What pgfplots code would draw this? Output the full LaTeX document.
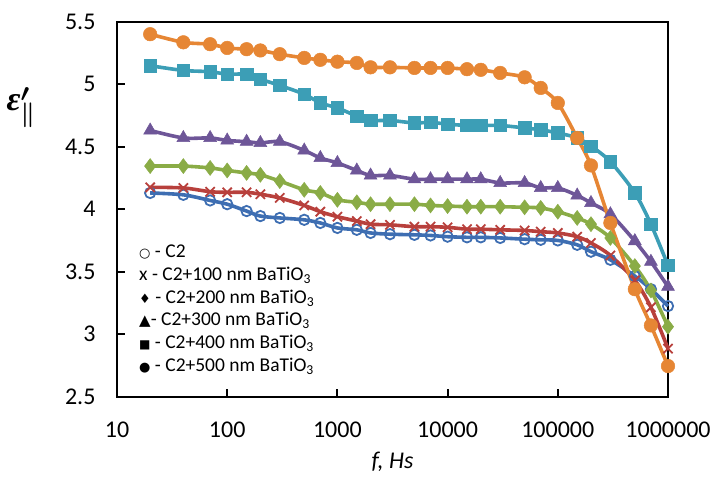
\documentclass[border=0pt]{standalone}
\usepackage{pgfplots}
\pgfplotsset{compat=1.18}
\usepackage{pgfplotstable}
\usepackage{fontspec}
\setmainfont{Carlito}
\newfontfamily\symfont{DejaVu Sans}
\newfontfamily\epsfont{Liberation Serif}
\newcommand{\epslabel}{{\boldmath$\mbox{\epsfont\bfseries\itshape ε}'_{\|}$}}
\definecolor{cBlue}{RGB}{62,110,178}
\definecolor{cRed}{RGB}{184,64,60}
\definecolor{cGreen}{RGB}{138,172,70}
\definecolor{cPurple}{RGB}{110,86,152}
\definecolor{cTeal}{RGB}{60,158,182}
\definecolor{cOrange}{RGB}{230,134,52}
\pgfplotstableread{
f c2 c100 c200 c300 c400 c500
20 4.13 4.175 4.345 4.63 5.148 5.40
40 4.115 4.17 4.345 4.57 5.11 5.335
70 4.07 4.14 4.33 4.57 5.10 5.32
100 4.04 4.135 4.31 4.55 5.08 5.29
150 3.985 4.135 4.29 4.54 5.08 5.28
200 3.945 4.12 4.275 4.53 5.04 5.27
300 3.93 4.09 4.225 4.54 4.99 5.24
500 3.915 4.03 4.155 4.47 4.92 5.21
700 3.89 3.98 4.13 4.41 4.85 5.195
1000 3.85 3.94 4.075 4.37 4.81 5.18
1500 3.835 3.905 4.055 4.31 4.745 5.17
2000 3.81 3.88 4.04 4.27 4.71 5.135
3000 3.80 3.875 4.04 4.27 4.71 5.135
5000 3.795 3.86 4.04 4.24 4.69 5.13
7000 3.79 3.86 4.03 4.24 4.695 5.13
10000 3.78 3.855 4.025 4.24 4.68 5.13
15000 3.775 3.84 4.02 4.24 4.67 5.12
20000 3.775 3.84 4.02 4.24 4.67 5.115
30000 3.77 3.835 4.02 4.21 4.67 5.09
50000 3.76 3.83 4.015 4.21 4.65 5.055
70000 3.755 3.82 4.01 4.17 4.635 4.97
100000 3.75 3.81 3.98 4.17 4.61 4.85
150000 3.715 3.78 3.93 4.11 4.57 4.57
200000 3.66 3.73 3.88 4.05 4.505 4.35
300000 3.595 3.63 3.77 3.96 4.38 3.89
500000 3.465 3.43 3.545 3.745 4.13 3.36
700000 3.36 3.215 3.35 3.58 3.88 3.07
1000000 3.225 2.885 3.06 3.38 3.55 2.745
}\datatable
\begin{document}
\begin{tikzpicture}
\begin{axis}[
  scale only axis, width=551pt, height=375pt,
  xmode=log, xmin=10, xmax=1000000, ymin=2.5, ymax=5.5,
  xtick={10,100,1000,10000,100000,1000000},
  xticklabels={10,100,1000,10000,100000,1000000},
  ytick={2.5,3,3.5,4,4.5,5,5.5},
  yticklabels={2.5,3,3.5,4,4.5,5,5.5},
  xminorticks=false,
  tick pos=left, tick align=inside,
  major tick length=8pt,
  every tick/.style={black, line width=2pt},
  axis line style={line width=2pt},
  tick label style={font=\fontsize{24}{24}\selectfont},
  xticklabel style={yshift=-22pt},
  yticklabel style={xshift=-18pt},
  clip=false,
  every axis plot/.append style={smooth, tension=0.5, line width=3.6pt},
]
\addplot[cBlue, mark=o, mark size=5.2pt, mark options={solid, line width=1.8pt}] table[x=f,y=c2] {\datatable};
\addplot[cRed, mark=x, mark size=6.5pt, mark options={solid, line width=1.8pt}] table[x=f,y=c100] {\datatable};
\addplot[cGreen, mark=diamond*, mark size=7.5pt, mark options={solid, line width=0.5pt}] table[x=f,y=c200] {\datatable};
\addplot[cPurple, mark=triangle*, mark size=7.5pt, mark options={solid, line width=0.5pt}] table[x=f,y=c300] {\datatable};
\addplot[cTeal, mark=square*, mark size=6.3pt, mark options={solid, line width=0.5pt}] table[x=f,y=c400] {\datatable};
\addplot[cOrange, mark=*, mark size=6.8pt, mark options={solid, line width=0.5pt}] table[x=f,y=c500] {\datatable};
\coordinate (bl) at (rel axis cs:0,0);
\node[anchor=north west, align=left, inner sep=0pt, font=\fontsize{19.5}{22.7}\selectfont]
  at (rel axis cs:0.04,0.405)
  {{\symfont\fontsize{13}{13}\selectfont ○} - C2\\
   x - C2+100 nm BaTiO\textsubscript{3}\\
   {\symfont\fontsize{13}{13}\selectfont ♦} - C2+200 nm BaTiO\textsubscript{3}\\
   {\symfont\fontsize{15}{15}\selectfont ▲}- C2+300 nm BaTiO\textsubscript{3}\\
   {\symfont\fontsize{12}{12}\selectfont ■} - C2+400 nm BaTiO\textsubscript{3}\\
   {\symfont\fontsize{13}{13}\selectfont ●} - C2+500 nm BaTiO\textsubscript{3}};
\node at (rel axis cs:0.5,0) [yshift=-65pt, font=\fontsize{24}{24}\selectfont\itshape] {f, Hs};
\end{axis}
\path (bl) ++(-96pt,288.7pt) node[font=\fontsize{34}{34}\selectfont] {\epslabel};
\pgfresetboundingbox
\path (bl) ++(-117pt,-81.3pt) rectangle ++(716pt,478pt);
\end{tikzpicture}
\end{document}
